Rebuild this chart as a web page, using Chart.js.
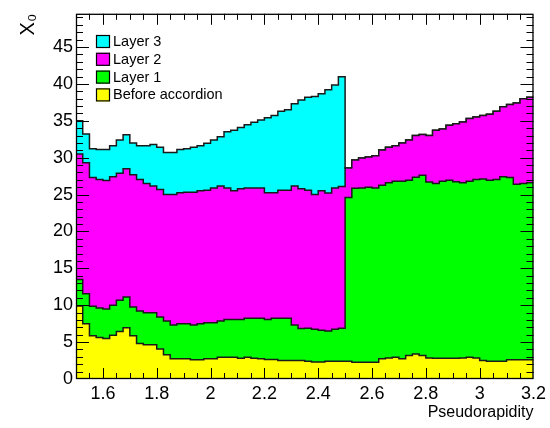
<!DOCTYPE html>
<html>
<head>
<meta charset="utf-8">
<script src="https://cdn.jsdelivr.net/npm/chart.js@4.4.1/dist/chart.umd.min.js"></script>
<style>
  html, body { margin: 0; padding: 0; background: #fff; }
  #wrap { width: 550px; height: 428px; }
</style>
</head>
<body>
<div id="wrap"><canvas id="x0Chart" width="550" height="428"></canvas></div>
<script>
// histogram binning in pseudorapidity
const etaMin = 1.5;
const etaMax = 3.2;
const binWidth = 0.025;

const xTicks = [1.6, 1.8, 2.0, 2.2, 2.4, 2.6, 2.8, 3.0, 3.2];
const yTicks = [0, 5, 10, 15, 20, 25, 30, 35, 40, 45];

// X0 per bin (68 bins of 0.025 from 1.5 to 3.2)
const beforeAccordion = [
  9.9, 7.5, 5.85, 5.62, 5.5, 5.94, 6.43, 6.96, 5.85, 4.82,
  4.64, 4.64, 4.07, 3.3, 2.73, 2.73, 2.73, 2.6, 2.6, 2.73,
  2.73, 2.95, 2.95, 2.95, 2.8, 2.95, 2.8, 2.73, 2.65, 2.65,
  2.5, 2.5, 2.5, 2.5, 2.4, 2.3, 2.3, 2.4, 2.4, 2.4,
  2.4, 2.28, 2.28, 2.28, 2.28, 2.73, 2.86, 2.95, 2.73, 3.17,
  3.4, 3.17, 2.86, 2.8, 2.8, 2.8, 2.8, 2.86, 2.95, 2.86,
  2.5, 2.4, 2.4, 2.4, 2.6, 2.6, 2.6, 2.6
];
const layer1 = [
  3.6, 4.05, 4.02, 4.02, 4.0, 4.06, 4.24, 4.14, 3.92, 4.38,
  4.33, 4.33, 4.33, 4.56, 4.59, 4.77, 4.77, 4.72, 4.9, 4.9,
  4.9, 4.91, 5.13, 5.13, 5.28, 5.27, 5.42, 5.49, 5.43, 5.57,
  5.72, 5.72, 4.82, 4.33, 4.48, 4.45, 4.3, 4.1, 4.35, 4.48,
  22.2, 23.57, 23.62, 23.72, 23.62, 23.52, 23.74, 23.85, 24.07, 23.78,
  23.95, 24.43, 23.84, 23.7, 24.0, 24.15, 23.95, 23.74, 23.85, 24.19,
  24.6, 24.55, 24.65, 25.0, 24.7, 23.8, 23.9, 24.0
];
const layer2 = [
  17.0, 17.75, 17.43, 17.41, 17.4, 17.4, 17.23, 17.4, 17.93, 17.85,
  17.53, 17.18, 17.3, 17.14, 17.68, 17.75, 17.8, 17.98, 18.0, 17.97,
  18.27, 18.29, 17.82, 17.42, 17.72, 17.68, 17.68, 17.68, 17.17, 17.03,
  17.38, 17.38, 18.83, 18.97, 18.72, 18.25, 18.9, 18.7, 19.15, 19.22,
  4.0, 3.85, 4.05, 4.1, 4.35, 4.8, 4.8, 4.8, 5.2, 5.45,
  5.65, 5.55, 6.3, 7.2, 7.1, 7.45, 7.85, 8.25, 8.5, 8.45,
  8.6, 8.95, 9.25, 9.5, 9.9, 11.0, 11.47, 11.6
];
const layer3 = [
  4.5, 3.9, 3.9, 4.05, 4.2, 4.2, 4.5, 4.6, 4.3, 4.55,
  5.1, 5.65, 5.7, 5.7, 5.7, 5.85, 5.9, 6.1, 6.1, 6.35,
  6.5, 6.7, 7.6, 8.2, 8.3, 8.55, 8.9, 9.2, 10.15, 10.45,
  10.7, 10.9, 11.15, 12.0, 12.6, 13.3, 13.15, 14.0, 13.95, 14.86,
  0, 0, 0, 0, 0, 0, 0, 0, 0, 0,
  0, 0, 0, 0, 0, 0, 0, 0, 0, 0,
  0, 0, 0, 0, 0, 0, 0, 0
];

const FONT = '"Liberation Sans", Arial, Helvetica, sans-serif';
Chart.defaults.font.family = FONT;
Chart.defaults.color = '#000';

const binEdges = Array.from({ length: beforeAccordion.length + 1 }, (_, i) => +(etaMin + i * binWidth).toFixed(3));

// one point per low edge, last value repeated at the upper edge so the step closes
function stepData(values) {
  return binEdges.map((x, i) => ({ x: x, y: values[Math.min(i, values.length - 1)] }));
}

function histo(label, values, color) {
  return {
    label: label,
    data: stepData(values),
    stepped: true,
    fill: 'origin',
    backgroundColor: color,
    borderColor: '#1a1a1a',
    borderWidth: 1.5,
    pointRadius: 0,
    pointHoverRadius: 0,
  };
}

// ROOT style frame with inward ticks on all four sides
const framePlugin = {
  id: 'frame',
  afterDatasetsDraw(chart) {
    const { ctx, chartArea: a, scales } = chart;
    ctx.save();
    ctx.strokeStyle = '#000';
    ctx.lineWidth = 1;
    ctx.beginPath();
    for (let k = 31; k < 64; k++) {
      const px = Math.round(scales.x.getPixelForValue(k * 0.05)) + 0.5;
      const len = k % 4 === 0 ? 11 : 6;
      ctx.moveTo(px, a.bottom); ctx.lineTo(px, a.bottom - len);
      ctx.moveTo(px, a.top); ctx.lineTo(px, a.top + len);
    }
    for (let k = 1; k < 50; k++) {
      const py = Math.round(scales.y.getPixelForValue(k)) + 0.5;
      const len = k % 5 === 0 ? 13 : 7;
      ctx.moveTo(a.left, py); ctx.lineTo(a.left + len, py);
      ctx.moveTo(a.right, py); ctx.lineTo(a.right - len, py);
    }
    ctx.stroke();
    ctx.lineWidth = 1.3;
    ctx.strokeRect(a.left + 0.5, a.top + 0.5, a.right - a.left - 1, a.bottom - a.top - 1);
    ctx.restore();
  }
};

const legendPlugin = {
  id: 'boxLegend',
  afterDraw(chart) {
    const ctx = chart.ctx;
    const items = chart.data.datasets.slice().reverse();
    ctx.save();
    ctx.font = '14.5px ' + FONT;
    ctx.textBaseline = 'middle';
    items.forEach((ds, i) => {
      const y = 35 + i * 17.8;
      ctx.fillStyle = ds.backgroundColor;
      ctx.fillRect(96, y, 14, 13);
      ctx.strokeStyle = '#000';
      ctx.lineWidth = 1.2;
      ctx.strokeRect(96.5, y + 0.5, 13, 12);
      ctx.fillStyle = '#000';
      ctx.fillText(ds.label, 113, y + 7);
    });
    ctx.restore();
  }
};

new Chart(document.getElementById('x0Chart'), {
  type: 'line',
  data: {
    datasets: [
      histo('Before accordion', beforeAccordion, '#ffff00'),
      histo('Layer 1', layer1, '#00ff00'),
      histo('Layer 2', layer2, '#ff00ff'),
      histo('Layer 3', layer3, '#00ffff'),
    ],
  },
  options: {
    responsive: false,
    animation: false,
    layout: { padding: { top: 9, right: 14, left: 0, bottom: 0 } },
    plugins: {
      legend: { display: false },
      tooltip: { enabled: false },
    },
    scales: {
      x: {
        type: 'linear',
        min: etaMin,
        max: etaMax,
        afterBuildTicks: (s) => { s.ticks = xTicks.map(v => ({ value: v })); },
        afterFit: (s) => { s.height = 49; },
        grid: { display: false, drawTicks: false },
        border: { display: false },
        ticks: {
          font: { size: 18 },
          padding: 4,
          maxRotation: 0,
          autoSkip: false,
          callback: (v) => String(+Number(v).toFixed(2)),
        },
        title: {
          display: true,
          text: 'Pseudorapidity',
          align: 'end',
          font: { size: 16 },
          padding: { top: 0, bottom: 6 },
        },
      },
      y: {
        stacked: true,
        min: 0,
        max: 49.5,
        afterBuildTicks: (s) => { s.ticks = yTicks.map(v => ({ value: v })); },
        afterFit: (s) => { s.width = 76; },
        grid: { display: false, drawTicks: false },
        border: { display: false },
        ticks: { font: { size: 18 }, padding: 3 },
        title: {
          display: true,
          text: 'X₀',
          align: 'end',
          font: { size: 20 },
          padding: { top: 16, bottom: 0 },
        },
      },
    },
  },
  plugins: [framePlugin, legendPlugin],
});
</script>
</body>
</html>
